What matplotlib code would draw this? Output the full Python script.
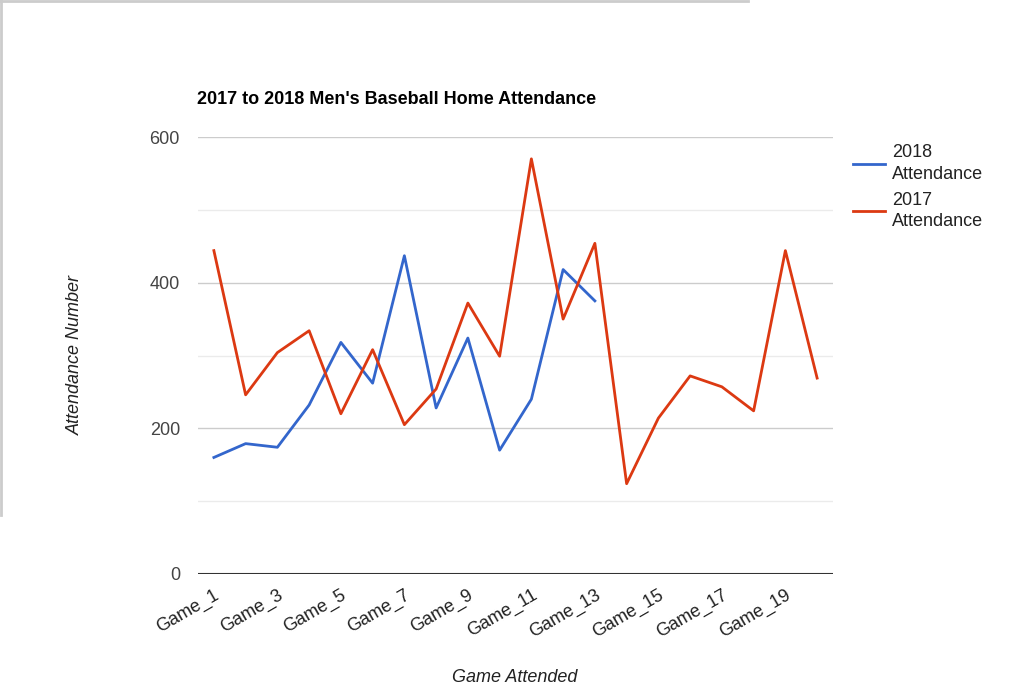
import numpy as np
import matplotlib.pyplot as plt
from matplotlib.lines import Line2D

plt.rcParams['font.family'] = ['Liberation Sans', 'DejaVu Sans']

games = ["Game_%d" % i for i in range(1, 21)]
att_2018 = [160, 179, 174, 232, 318, 262, 437, 228, 324, 170, 240, 418, 375]
att_2017 = [444, 246, 304, 334, 220, 308, 205, 254, 372, 299, 570, 350, 454,
            124, 214, 272, 257, 224, 444, 269]

fig = plt.figure(figsize=(10.24, 6.99), dpi=100)
ax = fig.add_axes([198 / 1024, 125 / 699, 635 / 1024, 437 / 699])

x = np.arange(len(games))
ax.plot(x[:len(att_2018)], att_2018, color="#3366cc", lw=2, label="2018\nAttendance")
ax.plot(x, att_2017, color="#dc3912", lw=2, label="2017\nAttendance")

ax.set_xlim(-0.5, len(games) - 0.5)
ax.set_ylim(0, 600)

# gridlines: major every 200, minor in between
for v in [100, 300, 500]:
    ax.axhline(v, color="#ebebeb", lw=1, zorder=0)
for v in [200, 400, 600]:
    ax.axhline(v, color="#cccccc", lw=1, zorder=0)
ax.axhline(0, color="#333333", lw=1.5, zorder=3)

ax.set_yticks([0, 200, 400, 600])
ax.set_yticklabels(["0", "200", "400", "600"], fontsize=13, color="#444444")
ax.set_xticks(x[::2])
ax.set_xticklabels(games[::2], fontsize=13, color="#222222", rotation=30,
                   ha="right", rotation_mode="anchor")
ax.tick_params(length=0)
ax.tick_params(axis="y", pad=13)
ax.tick_params(axis="x", pad=9)
for s in ax.spines.values():
    s.set_visible(False)

fig.text(197 / 1024, 1 - 100 / 699, "2017 to 2018 Men's Baseball Home Attendance",
         fontsize=13, fontweight="bold", va="center", ha="left")
fig.text(75 / 1024, 1 - 355 / 699, "Attendance Number", fontsize=13, style="italic",
         rotation=90, va="center", ha="center", color="#222222")
fig.text(515 / 1024, 1 - 677 / 699, "Game Attended", fontsize=13, style="italic",
         va="center", ha="center", color="#222222")

leg = ax.legend(loc="upper left", bbox_to_anchor=(1.02, 1.0), frameon=False,
                fontsize=13, handlelength=1.8, handletextpad=0.35,
                labelspacing=0.5, borderaxespad=0)
for t in leg.get_texts():
    t.set_color("#222222")
    t.set_linespacing(1.35)

# screenshot border remnants
fig.add_artist(Line2D([0, 748 / 1024], [1 - 1 / 699, 1 - 1 / 699], color="#cccccc", lw=2))
fig.add_artist(Line2D([1 / 1024, 1 / 1024], [1, 1 - 515 / 699], color="#cccccc", lw=2))

fig.savefig("out.png", dpi=100)
